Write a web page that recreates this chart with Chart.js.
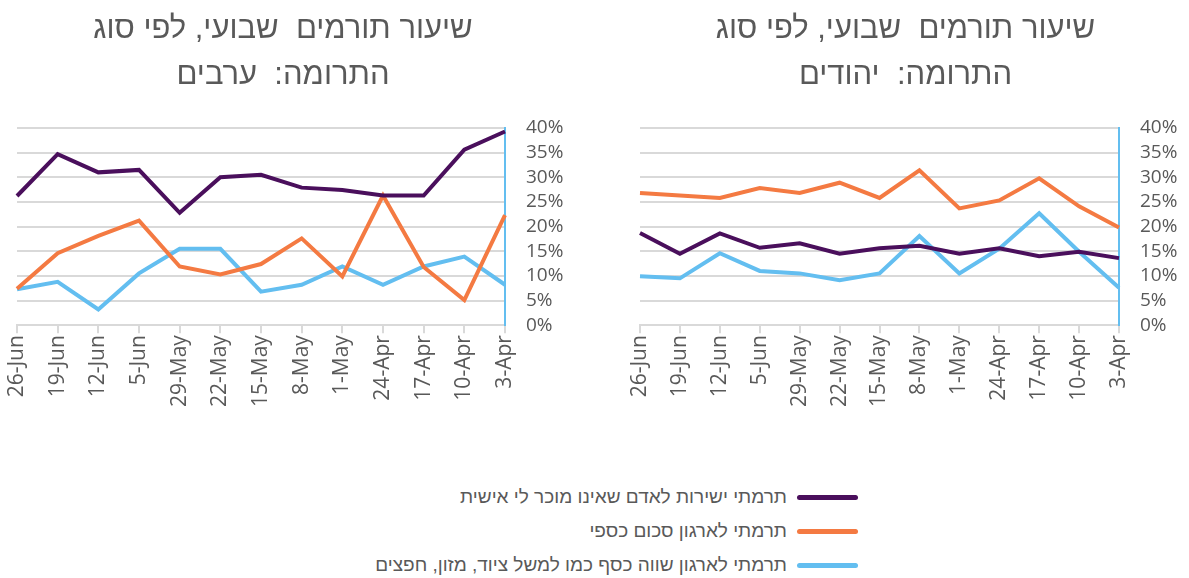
<!DOCTYPE html>
<html>
<head>
<meta charset="utf-8">
<script src="https://cdn.jsdelivr.net/npm/chart.js@4/dist/chart.umd.min.js"></script>
<style>
  body { margin: 0; background: #fff; width: 1189px; height: 578px; position: relative; overflow: hidden; }
  .box { position: absolute; top: 0; height: 409px; }
  #legend { position: absolute; right: 331px; top: 480px; font-family: "Liberation Sans", "DejaVu Sans", sans-serif; font-size: 19px; color: #595959; }
  .row { display: flex; justify-content: flex-end; align-items: center; height: 34px; }
  .row span.sw { display: inline-block; width: 61px; height: 5px; border-radius: 3px; margin-left: 10px; }
</style>
</head>
<body>
<div class="box" style="left:0; width:566px;"><canvas id="arabs"></canvas></div>
<div class="box" style="left:620px; width:569px;"><canvas id="jews"></canvas></div>
<div id="legend"></div>
<script>
// weeks as shown, left to right (latest first)
const weeks = ['26-Jun', '19-Jun', '12-Jun', '5-Jun', '29-May', '22-May', '15-May', '8-May', '1-May', '24-Apr', '17-Apr', '10-Apr', '3-Apr'];

const seriesNames = [
    'תרמתי ישירות לאדם שאינו מוכר לי אישית',
    'תרמתי לארגון סכום כספי',
    'תרמתי לארגון שווה כסף כמו למשל ציוד, מזון, חפצים'
];
const seriesColors = ['#4a0f5c', '#f47a42', '#63bef0'];

// Arabs (%)
const arabsDirect = [26.2, 34.7, 31.0, 31.5, 22.8, 30.0, 30.5, 27.9, 27.4, 26.3, 26.3, 35.6, 39.3];
const arabsMoney  = [7.4, 14.6, 18.1, 21.2, 11.9, 10.3, 12.4, 17.6, 9.9, 26.3, 11.8, 5.1, 22.3];
const arabsGoods  = [7.3, 8.8, 3.2, 10.5, 15.5, 15.5, 6.8, 8.2, 11.9, 8.2, 11.9, 13.9, 8.2];

// Jews (%)
const jewsDirect = [18.7, 14.5, 18.6, 15.7, 16.6, 14.5, 15.6, 16.1, 14.5, 15.6, 14.0, 14.9, 13.6];
const jewsMoney  = [26.8, 26.3, 25.8, 27.8, 26.8, 28.9, 25.8, 31.4, 23.7, 25.3, 29.8, 24.1, 19.8];
const jewsGoods  = [9.9, 9.5, 14.6, 11.0, 10.5, 9.1, 10.5, 18.1, 10.5, 15.5, 22.7, 14.9, 7.6];

const yTicks = [0, 5, 10, 15, 20, 25, 30, 35, 40];

const grey = '#595959';
const gridGrey = '#d9d9d9';

// nudge the title sideways so it sits where Excel put it
const titleShift = {
    id: 'titleShift',
    afterLayout(chart, args, opts) {
        if (chart.titleBlock) {
            chart.titleBlock.left -= opts.dx;
            chart.titleBlock.right -= opts.dx;
        }
    }
};

function makeChart(id, title, direct, money, goods, pad, yWidth, dx) {
    const ctx = document.getElementById(id).getContext('2d');
    return new Chart(ctx, {
        type: 'line',
        data: {
            labels: weeks,
            datasets: [direct, money, goods].map((d, i) => ({
                label: seriesNames[i],
                data: d,
                borderColor: seriesColors[i],
                borderWidth: 4,
                pointRadius: 0,
                tension: 0,
                fill: false
            }))
        },
        plugins: [titleShift],
        options: {
            animation: false,
            responsive: true,
            maintainAspectRatio: false,
            layout: { padding: pad },
            plugins: {
                legend: { display: false },
                tooltip: { enabled: false },
                titleShift: { dx: dx },
                title: {
                    display: true,
                    text: title,
                    color: grey,
                    font: { family: '"Liberation Sans Narrow", "Liberation Sans", sans-serif', size: 31, weight: 'normal', lineHeight: 1.5 },
                    padding: { top: 0, bottom: 29 }
                }
            },
            scales: {
                x: {
                    offset: false,
                    grid: { drawOnChartArea: false, drawTicks: true, tickLength: 8, color: gridGrey, lineWidth: 2 },
                    border: { color: gridGrey, width: 2 },
                    ticks: {
                        color: grey,
                        maxRotation: 90,
                        minRotation: 90,
                        autoSkip: false,
                        padding: 2,
                        font: { family: '"Open Sans", sans-serif', size: 21 }
                    }
                },
                y: {
                    position: 'right',
                    min: 0,
                    max: 40,
                    afterBuildTicks: axis => { axis.ticks = yTicks.map(v => ({ value: v })); },
                    afterFit: axis => { axis.width = yWidth; },
                    grid: { color: gridGrey, lineWidth: 2, drawTicks: false },
                    border: { color: '#63bef0', width: 2 },
                    ticks: {
                        color: grey,
                        padding: 21,
                        autoSkip: false,
                        callback: v => v + '%',
                        font: { family: '"Open Sans", sans-serif', size: 19 }
                    }
                }
            }
        }
    });
}

makeChart('arabs', ['שיעור תורמים  שבועי, לפי סוג', 'התרומה:  ערבים'], arabsDirect, arabsMoney, arabsGoods,
    { left: 17, right: 1, top: 6, bottom: 0 }, 60, 8);
makeChart('jews', ['שיעור תורמים  שבועי, לפי סוג', 'התרומה:  יהודים'], jewsDirect, jewsMoney, jewsGoods,
    { left: 20, right: 10, top: 6, bottom: 0 }, 60, 4);

// shared legend under both charts
const legend = document.getElementById('legend');
seriesNames.forEach((name, i) => {
    const row = document.createElement('div');
    row.className = 'row';
    const txt = document.createElement('span');
    txt.dir = 'rtl';
    txt.textContent = name;
    const sw = document.createElement('span');
    sw.className = 'sw';
    sw.style.background = seriesColors[i];
    row.appendChild(txt);
    row.appendChild(sw);
    legend.appendChild(row);
});
</script>
</body>
</html>
